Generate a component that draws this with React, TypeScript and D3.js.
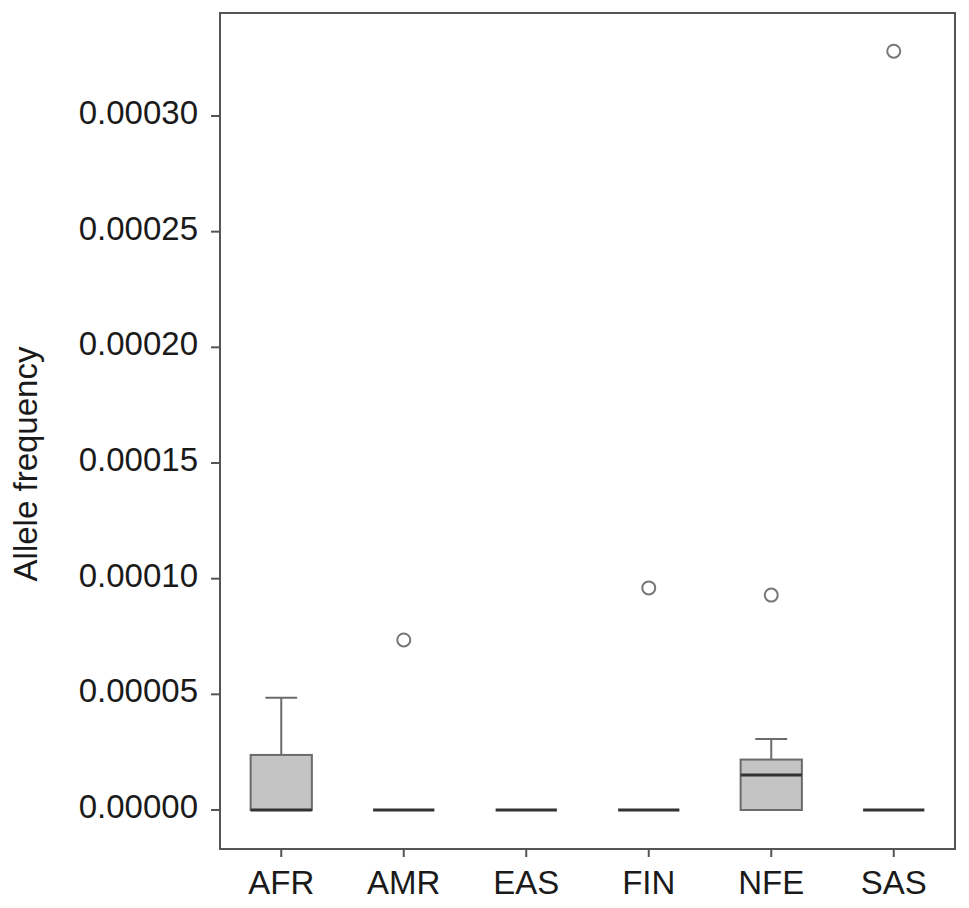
import React from "react";
import * as d3 from "d3";

const categories = ["AFR", "AMR", "EAS", "FIN", "NFE", "SAS"];
const q1 = [0, 0, 0, 0, 0, 0];
const medians = [0, 0, 0, 0, 0.0000151, 0];
const q3 = [0.0000238, 0, 0, 0, 0.0000218, 0];
const whiskerLow = [0, 0, 0, 0, 0, 0];
const whiskerHigh = [0.0000485, 0, 0, 0, 0.0000307, 0];
const outliers: number[][] = [[], [0.0000735], [], [0.000096], [0.0000929], [0.000328]];
const yTicks = [0, 0.00005, 0.0001, 0.00015, 0.0002, 0.00025, 0.0003];

const W = 969;
const H = 908;
const left = 220;
const right = 955;
const top = 13;
const bottom = 849;

export default function App() {
  const x = d3.scaleBand<string>().domain(categories).range([left, right]).padding(0);
  const y = d3.scaleLinear().domain([0, 0.0003]).range([810, 116]);
  const bw = x.bandwidth();
  const boxW = bw * 0.5;
  const capW = bw * 0.26;
  const font = "'Liberation Sans', Arial, Helvetica, sans-serif";
  const axisColor = "#555";
  const strokeColor = "#6b6b6b";
  const fs = 33;

  return (
    <svg width={W} height={H} style={{ position: "absolute", left: 0, top: 0 }}>
      <rect x={0} y={0} width={W} height={H} fill="#fff" />
      {categories.map((c, i) => {
        const cx = (x(c) as number) + bw / 2;
        const hasBox = q3[i] > q1[i];
        return (
          <g key={c}>
            {whiskerHigh[i] > q3[i] && (
              <>
                <line x1={cx} x2={cx} y1={y(q3[i])} y2={y(whiskerHigh[i])} stroke={strokeColor} strokeWidth={2} />
                <line x1={cx - capW / 2} x2={cx + capW / 2} y1={y(whiskerHigh[i])} y2={y(whiskerHigh[i])} stroke={strokeColor} strokeWidth={2} />
              </>
            )}
            {whiskerLow[i] < q1[i] && (
              <>
                <line x1={cx} x2={cx} y1={y(q1[i])} y2={y(whiskerLow[i])} stroke={strokeColor} strokeWidth={2} />
                <line x1={cx - capW / 2} x2={cx + capW / 2} y1={y(whiskerLow[i])} y2={y(whiskerLow[i])} stroke={strokeColor} strokeWidth={2} />
              </>
            )}
            {hasBox && (
              <rect
                x={cx - boxW / 2}
                y={y(q3[i])}
                width={boxW}
                height={y(q1[i]) - y(q3[i])}
                fill="#c4c4c4"
                stroke={strokeColor}
                strokeWidth={2}
              />
            )}
            <line
              x1={cx - boxW / 2}
              x2={cx + boxW / 2}
              y1={y(medians[i])}
              y2={y(medians[i])}
              stroke="#333"
              strokeWidth={3}
            />
            {outliers[i].map((v, j) => (
              <circle key={j} cx={cx} cy={y(v)} r={6.5} fill="none" stroke="#777" strokeWidth={2} />
            ))}
          </g>
        );
      })}
      <rect x={left} y={top} width={right - left} height={bottom - top} fill="none" stroke={axisColor} strokeWidth={2} />
      {yTicks.map((t) => (
        <g key={t}>
          <line x1={left - 9} x2={left} y1={y(t)} y2={y(t)} stroke={axisColor} strokeWidth={2} />
          <text
            x={198}
            y={y(t) + 8}
            textAnchor="end"
            fontFamily={font}
            fontSize={fs}
            fill="#1a1a1a"
          >
            {d3.format(".5f")(t)}
          </text>
        </g>
      ))}
      {categories.map((c) => {
        const cx = (x(c) as number) + bw / 2;
        return (
          <g key={c}>
            <line x1={cx} x2={cx} y1={bottom} y2={bottom + 8} stroke={axisColor} strokeWidth={2} />
            <text x={cx} y={894} textAnchor="middle" fontFamily={font} fontSize={fs} fill="#1a1a1a">
              {c}
            </text>
          </g>
        );
      })}
      <text
        transform={`translate(37, 464) rotate(-90)`}
        textAnchor="middle"
        fontFamily={font}
        fontSize={fs}
        fill="#1a1a1a"
      >
        Allele frequency
      </text>
    </svg>
  );
}
